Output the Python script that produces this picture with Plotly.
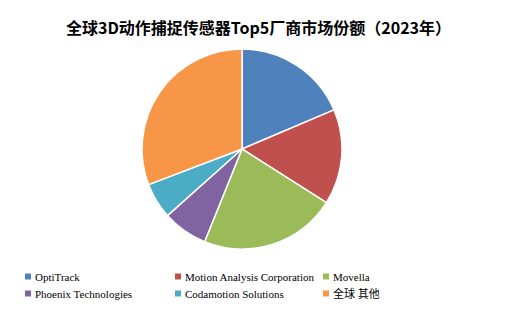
import plotly.graph_objects as go

labels = ["OptiTrack", "Motion Analysis Corporation", "Movella",
          "Phoenix Technologies", "Codamotion Solutions", "全球 其他"]
values = [18.6, 15.4, 22.1, 7.3, 5.8, 30.8]
colors = ["#4F81BD", "#C0504D", "#9BBB59", "#8064A2", "#4BACC6", "#F79646"]
title_text = "全球3D动作捕捉传感器Top5厂商市场份额（2023年）"

W, H = 517, 314
fig = go.Figure(go.Pie(
    labels=labels, values=values, sort=False, direction="clockwise", rotation=0,
    marker=dict(colors=colors, line=dict(color="white", width=1.5)),
    textinfo="none", hoverinfo="label+percent",
    domain=dict(x=[142 / W, 342 / W], y=[1 - 249 / H, 1 - 49 / H]),
))

# legend laid out in a 3-column grid below the pie
col_x = [25, 175, 323]     # left edge of the swatch, px
row_y = [276.5, 293.5]     # centre of each row, px
sw = 6
shapes, annotations = [], []
for i, (lab, col) in enumerate(zip(labels, colors)):
    cx, ry = col_x[i % 3], row_y[i // 3]
    shapes.append(dict(type="rect", xref="paper", yref="paper",
                       x0=cx / W, x1=(cx + sw) / W,
                       y0=1 - (ry + sw / 2) / H, y1=1 - (ry - sw / 2) / H,
                       fillcolor=col, line=dict(width=0)))
    annotations.append(dict(text=lab, xref="paper", yref="paper",
                            x=(cx + 8) / W, y=1 - ry / H, xanchor="left", yanchor="middle",
                            showarrow=False,
                            font=dict(family="Liberation Serif, Noto Sans CJK SC", size=11,
                                      color="#000000")))

fig.update_layout(
    width=W, height=H, margin=dict(l=0, r=0, t=0, b=0, autoexpand=False),
    paper_bgcolor="white", plot_bgcolor="white",
    title=dict(text=title_text, x=0.5, xanchor="center", y=1 - 28 / H, yanchor="middle",
               font=dict(family="Noto Sans CJK SC", size=16, color="#000000", weight="bold")),
    showlegend=False,
    shapes=shapes, annotations=annotations,
)
fig.write_html("out.html")
